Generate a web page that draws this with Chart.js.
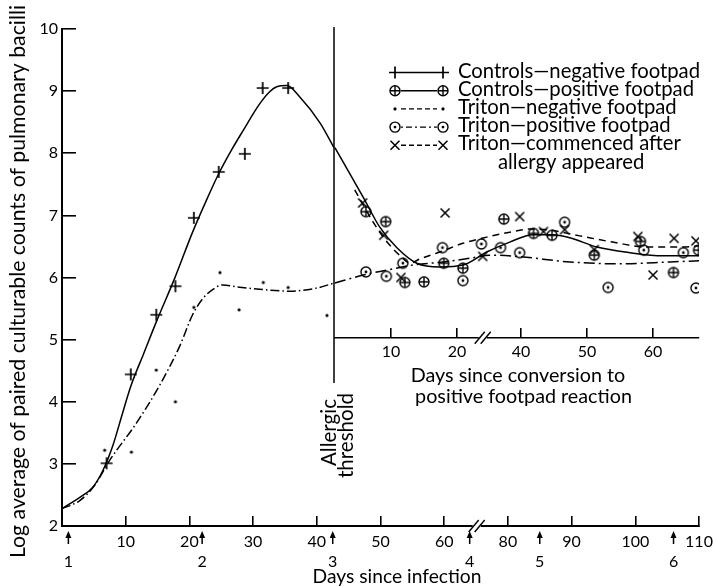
<!DOCTYPE html>
<html>
<head>
<meta charset="utf-8">
<title>Pulmonary bacilli</title>
<script src="https://cdn.jsdelivr.net/npm/chart.js@4.4.0/dist/chart.umd.min.js"></script>
<style>
  html, body { margin: 0; padding: 0; background: #fff; }
  canvas { display: block; }
</style>
</head>
<body>
<canvas id="myChart" width="716" height="587"></canvas>
<script>
const FONT = 'Lato, "Open Sans", sans-serif';

// ---- axes ----
const logTicks = [2, 3, 4, 5, 6, 7, 8, 9, 10];
const infectionTicks = [10, 20, 30, 40, 50, 60, 80, 90, 100, 110];   // broken between 60 and 80
const conversionTicks = [10, 20, 40, 50, 60];                        // broken between 20 and 40
const testDays = [1, 22, 42.5, 64, 85, 106];
const testLabels = ["1", "2", "3", "4", "5", "6"];
const thresholdDay = 42.7;

// ---- days since infection ----
const ctrlNegDays = [7, 10.8, 14.8, 17.8, 20.7, 24.6, 28.7, 31.5, 35.5];
const ctrlNegLog = [3.01, 4.44, 5.40, 5.86, 6.96, 7.70, 7.99, 9.05, 9.05];
const ctrlNegFitDays = [0, 2.8, 4.8, 6.4, 8.0, 9.4, 10.8, 12.8, 14.9, 17.7, 20.5, 22.7, 24.6, 26.6, 28.4, 31.0, 32.6, 33.7, 35.3, 37.3, 40.5, 42.7];
const ctrlNegFitLog = [2.28, 2.46, 2.62, 2.89, 3.30, 3.78, 4.25, 4.77, 5.31, 5.99, 6.73, 7.25, 7.67, 8.05, 8.36, 8.79, 8.99, 9.07, 9.09, 8.91, 8.49, 8.09];

const tritNegDays = [6.7, 10.9, 14.8, 17.8, 20.7, 24.8, 27.8, 31.6, 35.5, 41.6];
const tritNegLog = [3.22, 3.19, 4.51, 4.00, 5.52, 6.08, 5.48, 5.92, 5.84, 5.39];
const tritNegFitDays = [0, 2.8, 5.1, 7.5, 11.7, 15.3, 18.5, 20.5, 22.1, 23.7, 25.2, 27.4, 31.0, 35.7, 40.0, 42.7];
const tritNegFitLog = [2.28, 2.41, 2.65, 3.06, 3.66, 4.26, 4.90, 5.40, 5.66, 5.81, 5.88, 5.85, 5.81, 5.78, 5.83, 5.91];

// ---- days since conversion to positive footpad reaction ----
const ctrlPosDays = [6.2, 9.2, 12.1, 15.0, 18.0, 20.9, 37.4, 41.9, 44.7, 51.1, 58.1, 63.1, 66.9];
const ctrlPosLog = [7.06, 6.90, 5.92, 5.93, 6.23, 6.15, 6.94, 6.71, 6.68, 6.36, 6.58, 6.08, 6.44];
const ctrlPosFitDays = [1.5, 5.8, 8.3, 10.9, 13.9, 17.4, 20.9, 24.5, 38.3, 41.8, 44.8, 47.4, 51.5, 56.5, 61.5, 67.1];
const ctrlPosFitLog = [8.09, 7.29, 6.81, 6.48, 6.23, 6.17, 6.20, 6.41, 6.57, 6.69, 6.69, 6.64, 6.49, 6.40, 6.35, 6.35];

const tritPosDays = [6.2, 9.3, 11.8, 17.8, 20.9, 23.7, 36.9, 39.8, 46.6, 53.2, 58.6, 64.6, 66.5];
const tritPosLog = [6.09, 6.02, 6.23, 6.48, 5.95, 6.54, 6.48, 6.40, 6.89, 5.84, 6.44, 6.40, 5.83];
const tritPosFitDays = [1.5, 5.8, 9.4, 13.3, 17.9, 22.0, 35.3, 39.4, 47.4, 55.0, 62.6, 67.1];
const tritPosFitLog = [5.91, 6.04, 6.12, 6.20, 6.25, 6.31, 6.36, 6.34, 6.25, 6.22, 6.25, 6.27];

const tritLateDays = [5.7, 8.9, 11.5, 18.2, 23.9, 39.8, 43.4, 46.6, 51.1, 57.7, 60.0, 63.2, 66.5];
const tritLateLog = [7.20, 6.68, 6.00, 7.04, 6.34, 6.98, 6.74, 6.77, 6.45, 6.66, 6.04, 6.63, 6.59];
const tritLateFitDays = [4.5, 7.3, 9.5, 11.7, 12.9, 14.4, 17.4, 20.9, 24.5, 38.3, 41.4, 43.9, 48.9, 53.9, 59.1, 64.1, 67.1];
const tritLateFitLog = [7.41, 6.89, 6.56, 6.32, 6.23, 6.30, 6.41, 6.55, 6.65, 6.73, 6.78, 6.77, 6.67, 6.57, 6.49, 6.49, 6.51];

// axis breaks: remove the skipped stretch of days
const mainU = (d) => (d <= 66 ? d : d - 10);
const insetU = (d) => (d < 25 ? d : d - 10.3);

// marker glyphs
function drawMarker(g, kind, x, y) {
  g.save();
  g.strokeStyle = "#000";
  g.fillStyle = "#000";
  g.lineWidth = 1.4;
  if (kind === "circleCross" || kind === "circleDot") {
    g.beginPath();
    g.arc(x, y, 5, 0, Math.PI * 2);
    g.stroke();
  }
  if (kind === "circleCross") {
    g.beginPath();
    g.moveTo(x - 5, y); g.lineTo(x + 5, y);
    g.moveTo(x, y - 5); g.lineTo(x, y + 5);
    g.stroke();
  } else if (kind === "circleDot") {
    g.beginPath();
    g.arc(x, y, 1.4, 0, Math.PI * 2);
    g.fill();
  } else if (kind === "plus") {
    g.lineWidth = 1.7;
    g.beginPath();
    g.moveTo(x - 6, y); g.lineTo(x + 6, y);
    g.moveTo(x, y - 6); g.lineTo(x, y + 6);
    g.stroke();
  } else if (kind === "cross") {
    g.lineWidth = 1.5;
    g.beginPath();
    g.moveTo(x - 4.5, y - 4.5); g.lineTo(x + 4.5, y + 4.5);
    g.moveTo(x + 4.5, y - 4.5); g.lineTo(x - 4.5, y + 4.5);
    g.stroke();
  } else if (kind === "dot") {
    g.beginPath();
    g.arc(x, y, 1.6, 0, Math.PI * 2);
    g.fill();
  }
  g.restore();
}

function makeMarker(kind) {
  const c = document.createElement("canvas");
  c.width = 14;
  c.height = 14;
  drawMarker(c.getContext("2d"), kind, 7, 7);
  return c;
}

const DASH_CTRL = [];
const DASH_TRIT_NEG = [9, 3, 1.5, 3];
const DASH_TRIT_POS = [11, 4, 2, 4];
const DASH_LATE = [7, 5];

function curve(days, logs, axis, map, dash) {
  return {
    data: days.map((d, i) => ({ x: map(d), y: logs[i] })),
    xAxisID: axis,
    showLine: true,
    pointRadius: 0,
    borderColor: "#000",
    borderWidth: 1.5,
    borderDash: dash,
    cubicInterpolationMode: "monotone",
    fill: false,
  };
}

function marks(days, logs, axis, map, kind) {
  return {
    data: days.map((d, i) => ({ x: map(d), y: logs[i] })),
    xAxisID: axis,
    showLine: false,
    pointStyle: makeMarker(kind),
    pointRadius: 5,
  };
}

function line(ctx, x1, y1, x2, y2, w) {
  ctx.lineWidth = w;
  ctx.beginPath();
  ctx.moveTo(x1, y1);
  ctx.lineTo(x2, y2);
  ctx.stroke();
}

function drawBreak(ctx, px, py) {
  ctx.save();
  ctx.fillStyle = "#fff";
  ctx.fillRect(px - 4, py - 2, 8, 4);
  ctx.strokeStyle = "#000";
  for (const off of [-3, 3]) line(ctx, px + off - 5, py + 6, px + off + 5, py - 6, 1.4);
  ctx.restore();
}

// font size that gives a text the width it takes in the figure
function fitSize(ctx, text, width) {
  ctx.font = "100px " + FONT;
  return (100 * width) / ctx.measureText(text).width;
}

function drawText(ctx, text, x, y, size, align, rot) {
  ctx.save();
  ctx.font = size.toFixed(2) + "px " + FONT;
  ctx.textAlign = align || "left";
  ctx.textBaseline = "alphabetic";
  ctx.translate(x, y);
  if (rot) ctx.rotate(rot);
  ctx.fillText(text, 0, 0);
  ctx.restore();
}

const legendRows = [
  { kind: "plus", dash: DASH_CTRL, text: "Controls\u2014negative footpad" },
  { kind: "circleCross", dash: DASH_CTRL, text: "Controls\u2014positive footpad" },
  { kind: "dot", dash: [5, 3], text: "Triton\u2014negative footpad" },
  { kind: "circleDot", dash: [2, 3, 6, 3], text: "Triton\u2014positive footpad" },
  { kind: "cross", dash: [5, 3], text: "Triton\u2014commenced after" },
];

const overlay = {
  id: "overlay",
  afterDraw(chart) {
    const { ctx } = chart;
    const { x, x2, y } = chart.scales;
    ctx.save();
    ctx.strokeStyle = "#000";
    ctx.fillStyle = "#000";

    // allergic threshold and the inset axis
    const tx = x.getPixelForValue(mainU(thresholdDay));
    const base = y.getPixelForValue(2);
    const iy = y.getPixelForValue(5.03);
    line(ctx, tx, y.getPixelForValue(10) - 2, tx, y.getPixelForValue(4.3), 1.5);
    line(ctx, tx, iy, x2.getPixelForValue(insetU(67)), iy, 1.7);
    drawBreak(ctx, x.getPixelForValue(65.1), base);
    drawBreak(ctx, x2.getPixelForValue(23.9), iy);

    // numbered arrows under the axis
    ctx.font = "16px " + FONT;
    ctx.textAlign = "center";
    ctx.textBaseline = "alphabetic";
    testDays.forEach((d, i) => {
      const ax = x.getPixelForValue(mainU(d));
      line(ctx, ax, base + 18, ax, base + 9, 1.5);
      ctx.beginPath();
      ctx.moveTo(ax, base + 5);
      ctx.lineTo(ax - 3, base + 12);
      ctx.lineTo(ax + 3, base + 12);
      ctx.closePath();
      ctx.fill();
      ctx.fillText(testLabels[i], ax, base + 41);
    });

    // titles
    drawText(ctx, "Days since infection", 397, 583, fitSize(ctx, "Days since infection", 169), "center");
    const insetSize = fitSize(ctx, "positive footpad reaction", 217);
    drawText(ctx, "Days since conversion to", 518, 382, insetSize, "center");
    drawText(ctx, "positive footpad reaction", 523.5, 403, insetSize, "center");
    const yTitle = "Log average of paired culturable counts of pulmonary bacilli";
    drawText(ctx, yTitle, 25, 281.5, fitSize(ctx, yTitle, 553), "center", -Math.PI / 2);
    const thrSize = fitSize(ctx, "threshold", 85);
    drawText(ctx, "Allergic", 336, 432.5, thrSize, "center", -Math.PI / 2);
    drawText(ctx, "threshold", 352.5, 435.5, thrSize, "center", -Math.PI / 2);

    // legend
    const legSize = fitSize(ctx, legendRows[0].text, 242);
    legendRows.forEach((r, i) => {
      const by = 77.5 + i * 18.2;
      const my = by - 5;
      ctx.save();
      ctx.setLineDash(r.dash);
      line(ctx, 401, my, 437, my, 1.4);
      ctx.restore();
      drawMarker(ctx, r.kind, 395, my);
      drawMarker(ctx, r.kind, 443, my);
      drawText(ctx, r.text, 458, by, legSize, "left");
    });
    drawText(ctx, "allergy appeared", 498, 77.5 + 5 * 18.2, legSize, "left");
    ctx.restore();
  },
};

const tickFont = { family: FONT, size: 16 };
const noPad = (s) => { s.paddingLeft = 0; s.paddingRight = 0; s.paddingTop = 0; s.paddingBottom = 0; };

new Chart(document.getElementById("myChart"), {
  type: "scatter",
  data: {
    datasets: [
      curve(ctrlNegFitDays, ctrlNegFitLog, "x", mainU, DASH_CTRL),
      curve(tritNegFitDays, tritNegFitLog, "x", mainU, DASH_TRIT_NEG),
      curve(ctrlPosFitDays, ctrlPosFitLog, "x2", insetU, DASH_CTRL),
      curve(tritPosFitDays, tritPosFitLog, "x2", insetU, DASH_TRIT_POS),
      curve(tritLateFitDays, tritLateFitLog, "x2", insetU, DASH_LATE),
      marks(ctrlNegDays, ctrlNegLog, "x", mainU, "plus"),
      marks(tritNegDays, tritNegLog, "x", mainU, "dot"),
      marks(ctrlPosDays, ctrlPosLog, "x2", insetU, "circleCross"),
      marks(tritPosDays, tritPosLog, "x2", insetU, "circleDot"),
      marks(tritLateDays, tritLateLog, "x2", insetU, "cross"),
    ],
  },
  options: {
    responsive: false,
    animation: false,
    devicePixelRatio: 1,
    layout: { padding: { top: 29, right: 17, left: 0, bottom: 0 } },
    plugins: { legend: { display: false }, tooltip: { enabled: false } },
    scales: {
      x: {
        type: "linear",
        min: 0,
        max: 100,
        afterFit: (s) => { s.height = 61; noPad(s); },
        afterBuildTicks: (s) => { s.ticks = infectionTicks.map((d) => ({ value: mainU(d) })); },
        ticks: {
          callback: (v, i) => infectionTicks[i],
          font: tickFont, color: "#000", padding: 16, maxRotation: 0, autoSkip: false,
        },
        grid: { drawOnChartArea: false, drawTicks: true, tickLength: -10, color: "#000", lineWidth: 1.6 },
        border: { display: true, color: "#000", width: 2 },
      },
      x2: {
        type: "linear",
        min: -39.85,
        max: 56.67,
        position: { y: 5.03 },
        afterFit: noPad,
        afterBuildTicks: (s) => { s.ticks = conversionTicks.map((d) => ({ value: insetU(d) })); },
        ticks: {
          callback: (v, i) => conversionTicks[i],
          font: tickFont, color: "#000", padding: 14, maxRotation: 0, autoSkip: false,
        },
        grid: { drawOnChartArea: false, drawTicks: true, tickLength: -10, color: "#000", lineWidth: 1.6 },
        border: { display: false },
      },
      y: {
        min: 2,
        max: 10,
        afterFit: (s) => { s.width = 62; noPad(s); },
        afterBuildTicks: (s) => { s.ticks = logTicks.map((v) => ({ value: v })); },
        ticks: { font: tickFont, color: "#000", padding: 18 },
        grid: { drawOnChartArea: false, drawTicks: true, tickLength: -14, color: "#000", lineWidth: 1.6 },
        border: { display: true, color: "#000", width: 2 },
      },
    },
  },
  plugins: [overlay],
});
</script>
</body>
</html>
